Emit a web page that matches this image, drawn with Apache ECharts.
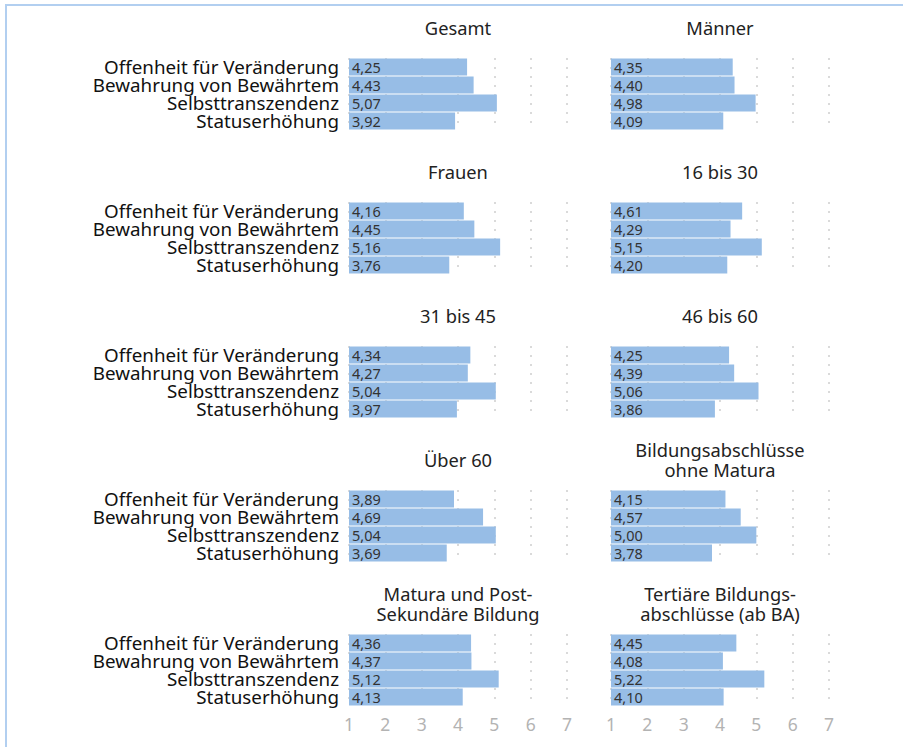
<!DOCTYPE html>
<html>
<head>
<meta charset="utf-8">
<script src="https://cdn.jsdelivr.net/npm/echarts@6/dist/echarts.min.js"></script>
<style>
  html, body { margin: 0; padding: 0; background: #fff; }
  #chart { width: 903px; height: 747px; }
</style>
</head>
<body>
<div id="chart"></div>
<script>
// Kategorien (von oben nach unten)
var categories = ['Offenheit für Veränderung', 'Bewahrung von Bewährtem', 'Selbsttranszendenz', 'Statuserhöhung'];

// Werte je Gruppe
var gesamt      = [4.25, 4.43, 5.07, 3.92];
var maenner     = [4.35, 4.40, 4.98, 4.09];
var frauen      = [4.16, 4.45, 5.16, 3.76];
var alter16bis30 = [4.61, 4.29, 5.15, 4.20];
var alter31bis45 = [4.34, 4.27, 5.04, 3.97];
var alter46bis60 = [4.25, 4.39, 5.06, 3.86];
var ueber60     = [3.89, 4.69, 5.04, 3.69];
var ohneMatura  = [4.15, 4.57, 5.00, 3.78];
var maturaPost  = [4.36, 4.37, 5.12, 4.13];
var tertiaer    = [4.45, 4.08, 5.22, 4.10];

var panelTitles = ['Gesamt', 'Männer', 'Frauen', '16 bis 30', '31 bis 45', '46 bis 60', 'Über 60',
  'Bildungsabschlüsse\nohne Matura', 'Matura und Post-\nSekundäre Bildung', 'Tertiäre Bildungs-\nabschlüsse (ab BA)'];
var panelValues = [gesamt, maenner, frauen, alter16bis30, alter31bis45, alter46bis60, ueber60, ohneMatura, maturaPost, tertiaer];

// Achse
var axisMin = 1, axisMax = 7, axisStep = 1;

var font = 'Noto Sans';
var barColor = '#97bde6';
var colLeft = [349, 611];
var gridWidth = 218;
var rowTop = 58, rowStep = 144, gridHeight = 72;

var chart = echarts.init(document.getElementById('chart'), null, {renderer: 'svg'});

var grids = [], xAxes = [], yAxes = [], series = [], titles = [];
panelTitles.forEach(function (t, i) {
  var col = i % 2, row = Math.floor(i / 2);
  var top = rowTop + row * rowStep;
  grids.push({left: colLeft[col], top: top, width: gridWidth, height: gridHeight, containLabel: false});
  xAxes.push({
    type: 'value', gridIndex: i, min: axisMin, max: axisMax, interval: axisStep, startValue: axisMin,
    axisLine: {show: false}, axisTick: {show: false},
    splitLine: {show: true, lineStyle: {color: '#dadada', width: 2, type: [2, 7]}},
    axisLabel: {show: row === 4, color: '#b3b3b3', fontSize: 17.5, fontFamily: font, margin: 9}
  });
  yAxes.push({
    type: 'category', gridIndex: i, data: categories, inverse: true,
    axisLine: {show: false}, axisTick: {show: false}, splitLine: {show: false},
    axisLabel: {show: col === 0, interval: 0, color: '#111', fontSize: 18.8, fontFamily: font, margin: 10, lineHeight: 18}
  });
  series.push({
    type: 'bar', xAxisIndex: i, yAxisIndex: i, data: panelValues[i],
    barWidth: 17, itemStyle: {color: barColor},
    label: {
      show: true, position: 'insideLeft', distance: 3, color: '#333', fontSize: 14.5, fontFamily: font,
      formatter: function (p) { return p.value.toFixed(2).replace('.', ','); }
    }
  });
  var lines = t.split('\n').length;
  titles.push({
    text: t, left: colLeft[col] + gridWidth / 2, textAlign: 'center',
    top: 27 + row * rowStep - lines * 10, padding: 0,
    textStyle: {fontSize: 18.3, fontWeight: 'normal', color: '#222', fontFamily: font, lineHeight: 20}
  });
});

chart.setOption({
  animation: false,
  title: titles,
  grid: grids,
  xAxis: xAxes,
  yAxis: yAxes,
  series: series,
  graphic: [{
    type: 'polyline', silent: true,
    shape: {points: [[6, 747], [6, 5], [903, 5]]},
    style: {stroke: '#b2cff0', lineWidth: 2, fill: null}
  }]
});
</script>
</body>
</html>
